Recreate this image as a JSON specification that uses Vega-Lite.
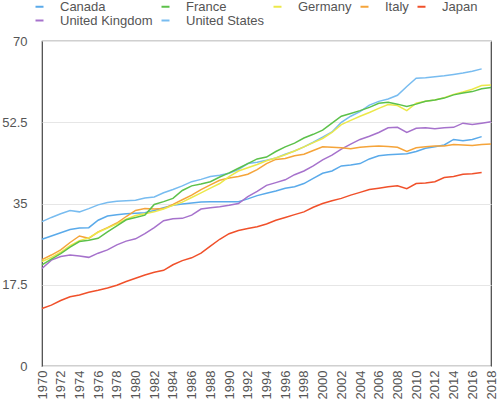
{
  "$schema": "https://vega.github.io/schema/vega-lite/v6.json",
  "width": 449,
  "height": 325,
  "autosize": "none",
  "padding": {"left": 42, "top": 41, "right": 9, "bottom": 41},
  "config": {
    "font": "Liberation Sans",
    "view": {"stroke": "#444", "strokeWidth": 1.2}
  },
  "data": {
    "values": [
      {"country": "Japan", "year": 1970, "value": 12.4}, {"country": "Japan", "year": 1971, "value": 13.1}, {"country": "Japan", "year": 1972, "value": 14.1}, {"country": "Japan", "year": 1973, "value": 14.9}, {"country": "Japan", "year": 1974, "value": 15.3}, {"country": "Japan", "year": 1975, "value": 15.9}, {"country": "Japan", "year": 1976, "value": 16.3}, {"country": "Japan", "year": 1977, "value": 16.8}, {"country": "Japan", "year": 1978, "value": 17.4}, {"country": "Japan", "year": 1979, "value": 18.2},
      {"country": "Japan", "year": 1980, "value": 18.9}, {"country": "Japan", "year": 1981, "value": 19.6}, {"country": "Japan", "year": 1982, "value": 20.2}, {"country": "Japan", "year": 1983, "value": 20.6}, {"country": "Japan", "year": 1984, "value": 21.8}, {"country": "Japan", "year": 1985, "value": 22.7}, {"country": "Japan", "year": 1986, "value": 23.3}, {"country": "Japan", "year": 1987, "value": 24.3}, {"country": "Japan", "year": 1988, "value": 25.8}, {"country": "Japan", "year": 1989, "value": 27.3},
      {"country": "Japan", "year": 1990, "value": 28.5}, {"country": "Japan", "year": 1991, "value": 29.2}, {"country": "Japan", "year": 1992, "value": 29.6}, {"country": "Japan", "year": 1993, "value": 30.0}, {"country": "Japan", "year": 1994, "value": 30.6}, {"country": "Japan", "year": 1995, "value": 31.4}, {"country": "Japan", "year": 1996, "value": 32.0}, {"country": "Japan", "year": 1997, "value": 32.6}, {"country": "Japan", "year": 1998, "value": 33.2}, {"country": "Japan", "year": 1999, "value": 34.2},
      {"country": "Japan", "year": 2000, "value": 35.0}, {"country": "Japan", "year": 2001, "value": 35.6}, {"country": "Japan", "year": 2002, "value": 36.1}, {"country": "Japan", "year": 2003, "value": 36.8}, {"country": "Japan", "year": 2004, "value": 37.4}, {"country": "Japan", "year": 2005, "value": 38.0}, {"country": "Japan", "year": 2006, "value": 38.3}, {"country": "Japan", "year": 2007, "value": 38.6}, {"country": "Japan", "year": 2008, "value": 38.8}, {"country": "Japan", "year": 2009, "value": 38.2},
      {"country": "Japan", "year": 2010, "value": 39.3}, {"country": "Japan", "year": 2011, "value": 39.4}, {"country": "Japan", "year": 2012, "value": 39.7}, {"country": "Japan", "year": 2013, "value": 40.6}, {"country": "Japan", "year": 2014, "value": 40.8}, {"country": "Japan", "year": 2015, "value": 41.3}, {"country": "Japan", "year": 2016, "value": 41.4}, {"country": "Japan", "year": 2017, "value": 41.7},

      {"country": "United States", "year": 1970, "value": 31.1}, {"country": "United States", "year": 1971, "value": 32.0}, {"country": "United States", "year": 1972, "value": 32.8}, {"country": "United States", "year": 1973, "value": 33.5}, {"country": "United States", "year": 1974, "value": 33.2}, {"country": "United States", "year": 1975, "value": 33.9}, {"country": "United States", "year": 1976, "value": 34.7}, {"country": "United States", "year": 1977, "value": 35.2}, {"country": "United States", "year": 1978, "value": 35.5}, {"country": "United States", "year": 1979, "value": 35.6},
      {"country": "United States", "year": 1980, "value": 35.7}, {"country": "United States", "year": 1981, "value": 36.2}, {"country": "United States", "year": 1982, "value": 36.4}, {"country": "United States", "year": 1983, "value": 37.3}, {"country": "United States", "year": 1984, "value": 38.0}, {"country": "United States", "year": 1985, "value": 38.8}, {"country": "United States", "year": 1986, "value": 39.7}, {"country": "United States", "year": 1987, "value": 40.2}, {"country": "United States", "year": 1988, "value": 40.8}, {"country": "United States", "year": 1989, "value": 41.1},
      {"country": "United States", "year": 1990, "value": 41.5}, {"country": "United States", "year": 1991, "value": 42.3}, {"country": "United States", "year": 1992, "value": 43.6}, {"country": "United States", "year": 1993, "value": 43.9}, {"country": "United States", "year": 1994, "value": 44.3}, {"country": "United States", "year": 1995, "value": 44.8}, {"country": "United States", "year": 1996, "value": 45.6}, {"country": "United States", "year": 1997, "value": 46.3}, {"country": "United States", "year": 1998, "value": 47.2}, {"country": "United States", "year": 1999, "value": 48.2},
      {"country": "United States", "year": 2000, "value": 49.3}, {"country": "United States", "year": 2001, "value": 50.4}, {"country": "United States", "year": 2002, "value": 52.5}, {"country": "United States", "year": 2003, "value": 53.8}, {"country": "United States", "year": 2004, "value": 54.8}, {"country": "United States", "year": 2005, "value": 56.2}, {"country": "United States", "year": 2006, "value": 57.0}, {"country": "United States", "year": 2007, "value": 57.5}, {"country": "United States", "year": 2008, "value": 58.3}, {"country": "United States", "year": 2009, "value": 60.2},
      {"country": "United States", "year": 2010, "value": 62.0}, {"country": "United States", "year": 2011, "value": 62.1}, {"country": "United States", "year": 2012, "value": 62.3}, {"country": "United States", "year": 2013, "value": 62.5}, {"country": "United States", "year": 2014, "value": 62.8}, {"country": "United States", "year": 2015, "value": 63.1}, {"country": "United States", "year": 2016, "value": 63.5}, {"country": "United States", "year": 2017, "value": 64.0},

      {"country": "Canada", "year": 1970, "value": 27.3}, {"country": "Canada", "year": 1971, "value": 28.0}, {"country": "Canada", "year": 1972, "value": 28.7}, {"country": "Canada", "year": 1973, "value": 29.4}, {"country": "Canada", "year": 1974, "value": 29.7}, {"country": "Canada", "year": 1975, "value": 29.8}, {"country": "Canada", "year": 1976, "value": 31.4}, {"country": "Canada", "year": 1977, "value": 32.3}, {"country": "Canada", "year": 1978, "value": 32.6}, {"country": "Canada", "year": 1979, "value": 32.8},
      {"country": "Canada", "year": 1980, "value": 32.9}, {"country": "Canada", "year": 1981, "value": 33.0}, {"country": "Canada", "year": 1982, "value": 33.5}, {"country": "Canada", "year": 1983, "value": 34.1}, {"country": "Canada", "year": 1984, "value": 34.6}, {"country": "Canada", "year": 1985, "value": 34.9}, {"country": "Canada", "year": 1986, "value": 35.1}, {"country": "Canada", "year": 1987, "value": 35.3}, {"country": "Canada", "year": 1988, "value": 35.4}, {"country": "Canada", "year": 1989, "value": 35.4},
      {"country": "Canada", "year": 1990, "value": 35.4}, {"country": "Canada", "year": 1991, "value": 35.4}, {"country": "Canada", "year": 1992, "value": 36.0}, {"country": "Canada", "year": 1993, "value": 36.7}, {"country": "Canada", "year": 1994, "value": 37.2}, {"country": "Canada", "year": 1995, "value": 37.7}, {"country": "Canada", "year": 1996, "value": 38.3}, {"country": "Canada", "year": 1997, "value": 38.6}, {"country": "Canada", "year": 1998, "value": 39.3}, {"country": "Canada", "year": 1999, "value": 40.4},
      {"country": "Canada", "year": 2000, "value": 41.5}, {"country": "Canada", "year": 2001, "value": 42.0}, {"country": "Canada", "year": 2002, "value": 43.1}, {"country": "Canada", "year": 2003, "value": 43.3}, {"country": "Canada", "year": 2004, "value": 43.6}, {"country": "Canada", "year": 2005, "value": 44.6}, {"country": "Canada", "year": 2006, "value": 45.3}, {"country": "Canada", "year": 2007, "value": 45.5}, {"country": "Canada", "year": 2008, "value": 45.6}, {"country": "Canada", "year": 2009, "value": 45.7},
      {"country": "Canada", "year": 2010, "value": 46.2}, {"country": "Canada", "year": 2011, "value": 46.9}, {"country": "Canada", "year": 2012, "value": 47.2}, {"country": "Canada", "year": 2013, "value": 47.6}, {"country": "Canada", "year": 2014, "value": 48.8}, {"country": "Canada", "year": 2015, "value": 48.5}, {"country": "Canada", "year": 2016, "value": 48.8}, {"country": "Canada", "year": 2017, "value": 49.4},

      {"country": "United Kingdom", "year": 1970, "value": 21.0}, {"country": "United Kingdom", "year": 1971, "value": 22.8}, {"country": "United Kingdom", "year": 1972, "value": 23.6}, {"country": "United Kingdom", "year": 1973, "value": 23.9}, {"country": "United Kingdom", "year": 1974, "value": 23.7}, {"country": "United Kingdom", "year": 1975, "value": 23.4}, {"country": "United Kingdom", "year": 1976, "value": 24.3}, {"country": "United Kingdom", "year": 1977, "value": 25.0}, {"country": "United Kingdom", "year": 1978, "value": 26.1}, {"country": "United Kingdom", "year": 1979, "value": 26.9},
      {"country": "United Kingdom", "year": 1980, "value": 27.4}, {"country": "United Kingdom", "year": 1981, "value": 28.5}, {"country": "United Kingdom", "year": 1982, "value": 29.8}, {"country": "United Kingdom", "year": 1983, "value": 31.3}, {"country": "United Kingdom", "year": 1984, "value": 31.7}, {"country": "United Kingdom", "year": 1985, "value": 31.8}, {"country": "United Kingdom", "year": 1986, "value": 32.5}, {"country": "United Kingdom", "year": 1987, "value": 33.8}, {"country": "United Kingdom", "year": 1988, "value": 34.1}, {"country": "United Kingdom", "year": 1989, "value": 34.3},
      {"country": "United Kingdom", "year": 1990, "value": 34.6}, {"country": "United Kingdom", "year": 1991, "value": 35.0}, {"country": "United Kingdom", "year": 1992, "value": 36.5}, {"country": "United Kingdom", "year": 1993, "value": 37.6}, {"country": "United Kingdom", "year": 1994, "value": 38.9}, {"country": "United Kingdom", "year": 1995, "value": 39.5}, {"country": "United Kingdom", "year": 1996, "value": 40.1}, {"country": "United Kingdom", "year": 1997, "value": 41.2}, {"country": "United Kingdom", "year": 1998, "value": 42.0}, {"country": "United Kingdom", "year": 1999, "value": 43.1},
      {"country": "United Kingdom", "year": 2000, "value": 44.4}, {"country": "United Kingdom", "year": 2001, "value": 45.4}, {"country": "United Kingdom", "year": 2002, "value": 46.7}, {"country": "United Kingdom", "year": 2003, "value": 47.8}, {"country": "United Kingdom", "year": 2004, "value": 48.8}, {"country": "United Kingdom", "year": 2005, "value": 49.5}, {"country": "United Kingdom", "year": 2006, "value": 50.3}, {"country": "United Kingdom", "year": 2007, "value": 51.3}, {"country": "United Kingdom", "year": 2008, "value": 51.4}, {"country": "United Kingdom", "year": 2009, "value": 50.3},
      {"country": "United Kingdom", "year": 2010, "value": 51.2}, {"country": "United Kingdom", "year": 2011, "value": 51.3}, {"country": "United Kingdom", "year": 2012, "value": 51.1}, {"country": "United Kingdom", "year": 2013, "value": 51.3}, {"country": "United Kingdom", "year": 2014, "value": 51.4}, {"country": "United Kingdom", "year": 2015, "value": 52.3}, {"country": "United Kingdom", "year": 2016, "value": 52.0}, {"country": "United Kingdom", "year": 2017, "value": 52.3}, {"country": "United Kingdom", "year": 2018, "value": 52.6},

      {"country": "Italy", "year": 1970, "value": 22.9}, {"country": "Italy", "year": 1971, "value": 23.9}, {"country": "Italy", "year": 1972, "value": 25.0}, {"country": "Italy", "year": 1973, "value": 26.6}, {"country": "Italy", "year": 1974, "value": 28.0}, {"country": "Italy", "year": 1975, "value": 27.5}, {"country": "Italy", "year": 1976, "value": 28.9}, {"country": "Italy", "year": 1977, "value": 29.8}, {"country": "Italy", "year": 1978, "value": 30.8}, {"country": "Italy", "year": 1979, "value": 32.2},
      {"country": "Italy", "year": 1980, "value": 33.5}, {"country": "Italy", "year": 1981, "value": 33.9}, {"country": "Italy", "year": 1982, "value": 33.8}, {"country": "Italy", "year": 1983, "value": 33.9}, {"country": "Italy", "year": 1984, "value": 34.8}, {"country": "Italy", "year": 1985, "value": 35.8}, {"country": "Italy", "year": 1986, "value": 36.8}, {"country": "Italy", "year": 1987, "value": 38.0}, {"country": "Italy", "year": 1988, "value": 39.0}, {"country": "Italy", "year": 1989, "value": 40.0},
      {"country": "Italy", "year": 1990, "value": 40.5}, {"country": "Italy", "year": 1991, "value": 40.8}, {"country": "Italy", "year": 1992, "value": 41.3}, {"country": "Italy", "year": 1993, "value": 42.3}, {"country": "Italy", "year": 1994, "value": 43.6}, {"country": "Italy", "year": 1995, "value": 44.5}, {"country": "Italy", "year": 1996, "value": 44.7}, {"country": "Italy", "year": 1997, "value": 45.3}, {"country": "Italy", "year": 1998, "value": 45.6}, {"country": "Italy", "year": 1999, "value": 46.4},
      {"country": "Italy", "year": 2000, "value": 47.2}, {"country": "Italy", "year": 2001, "value": 47.1}, {"country": "Italy", "year": 2002, "value": 47.0}, {"country": "Italy", "year": 2003, "value": 46.8}, {"country": "Italy", "year": 2004, "value": 47.1}, {"country": "Italy", "year": 2005, "value": 47.3}, {"country": "Italy", "year": 2006, "value": 47.4}, {"country": "Italy", "year": 2007, "value": 47.3}, {"country": "Italy", "year": 2008, "value": 47.1}, {"country": "Italy", "year": 2009, "value": 46.2},
      {"country": "Italy", "year": 2010, "value": 47.0}, {"country": "Italy", "year": 2011, "value": 47.2}, {"country": "Italy", "year": 2012, "value": 47.4}, {"country": "Italy", "year": 2013, "value": 47.4}, {"country": "Italy", "year": 2014, "value": 47.7}, {"country": "Italy", "year": 2015, "value": 47.6}, {"country": "Italy", "year": 2016, "value": 47.5}, {"country": "Italy", "year": 2017, "value": 47.7}, {"country": "Italy", "year": 2018, "value": 47.8},

      {"country": "Germany", "year": 1970, "value": 22.5}, {"country": "Germany", "year": 1971, "value": 23.4}, {"country": "Germany", "year": 1972, "value": 24.5}, {"country": "Germany", "year": 1973, "value": 25.9}, {"country": "Germany", "year": 1974, "value": 27.0}, {"country": "Germany", "year": 1975, "value": 27.6}, {"country": "Germany", "year": 1976, "value": 28.8}, {"country": "Germany", "year": 1977, "value": 29.7}, {"country": "Germany", "year": 1978, "value": 30.6}, {"country": "Germany", "year": 1979, "value": 31.6},
      {"country": "Germany", "year": 1980, "value": 32.4}, {"country": "Germany", "year": 1981, "value": 32.8}, {"country": "Germany", "year": 1982, "value": 33.2}, {"country": "Germany", "year": 1983, "value": 33.8}, {"country": "Germany", "year": 1984, "value": 34.6}, {"country": "Germany", "year": 1985, "value": 35.3}, {"country": "Germany", "year": 1986, "value": 36.3}, {"country": "Germany", "year": 1987, "value": 37.3}, {"country": "Germany", "year": 1988, "value": 38.3}, {"country": "Germany", "year": 1989, "value": 39.3},
      {"country": "Germany", "year": 1990, "value": 40.8}, {"country": "Germany", "year": 1991, "value": 42.0}, {"country": "Germany", "year": 1992, "value": 42.7}, {"country": "Germany", "year": 1993, "value": 43.4}, {"country": "Germany", "year": 1994, "value": 44.2}, {"country": "Germany", "year": 1995, "value": 44.8}, {"country": "Germany", "year": 1996, "value": 45.5}, {"country": "Germany", "year": 1997, "value": 46.3}, {"country": "Germany", "year": 1998, "value": 47.2}, {"country": "Germany", "year": 1999, "value": 48.1},
      {"country": "Germany", "year": 2000, "value": 49.0}, {"country": "Germany", "year": 2001, "value": 50.3}, {"country": "Germany", "year": 2002, "value": 52.0}, {"country": "Germany", "year": 2003, "value": 52.9}, {"country": "Germany", "year": 2004, "value": 53.8}, {"country": "Germany", "year": 2005, "value": 54.6}, {"country": "Germany", "year": 2006, "value": 55.5}, {"country": "Germany", "year": 2007, "value": 56.3}, {"country": "Germany", "year": 2008, "value": 56.1}, {"country": "Germany", "year": 2009, "value": 55.0},
      {"country": "Germany", "year": 2010, "value": 56.6}, {"country": "Germany", "year": 2011, "value": 57.0}, {"country": "Germany", "year": 2012, "value": 57.3}, {"country": "Germany", "year": 2013, "value": 57.8}, {"country": "Germany", "year": 2014, "value": 58.5}, {"country": "Germany", "year": 2015, "value": 59.0}, {"country": "Germany", "year": 2016, "value": 59.6}, {"country": "Germany", "year": 2017, "value": 60.4}, {"country": "Germany", "year": 2018, "value": 60.5},

      {"country": "France", "year": 1970, "value": 21.8}, {"country": "France", "year": 1971, "value": 23.0}, {"country": "France", "year": 1972, "value": 24.2}, {"country": "France", "year": 1973, "value": 25.6}, {"country": "France", "year": 1974, "value": 26.8}, {"country": "France", "year": 1975, "value": 27.1}, {"country": "France", "year": 1976, "value": 27.5}, {"country": "France", "year": 1977, "value": 28.9}, {"country": "France", "year": 1978, "value": 30.2}, {"country": "France", "year": 1979, "value": 31.5},
      {"country": "France", "year": 1980, "value": 32.0}, {"country": "France", "year": 1981, "value": 32.5}, {"country": "France", "year": 1982, "value": 34.8}, {"country": "France", "year": 1983, "value": 35.4}, {"country": "France", "year": 1984, "value": 36.1}, {"country": "France", "year": 1985, "value": 37.8}, {"country": "France", "year": 1986, "value": 38.8}, {"country": "France", "year": 1987, "value": 39.2}, {"country": "France", "year": 1988, "value": 39.7}, {"country": "France", "year": 1989, "value": 40.7},
      {"country": "France", "year": 1990, "value": 41.6}, {"country": "France", "year": 1991, "value": 42.6}, {"country": "France", "year": 1992, "value": 43.6}, {"country": "France", "year": 1993, "value": 44.6}, {"country": "France", "year": 1994, "value": 45.0}, {"country": "France", "year": 1995, "value": 46.2}, {"country": "France", "year": 1996, "value": 47.2}, {"country": "France", "year": 1997, "value": 48.0}, {"country": "France", "year": 1998, "value": 49.1}, {"country": "France", "year": 1999, "value": 49.9},
      {"country": "France", "year": 2000, "value": 50.8}, {"country": "France", "year": 2001, "value": 52.3}, {"country": "France", "year": 2002, "value": 53.8}, {"country": "France", "year": 2003, "value": 54.4}, {"country": "France", "year": 2004, "value": 55.0}, {"country": "France", "year": 2005, "value": 55.7}, {"country": "France", "year": 2006, "value": 56.6}, {"country": "France", "year": 2007, "value": 56.8}, {"country": "France", "year": 2008, "value": 56.4}, {"country": "France", "year": 2009, "value": 55.9},
      {"country": "France", "year": 2010, "value": 56.4}, {"country": "France", "year": 2011, "value": 57.0}, {"country": "France", "year": 2012, "value": 57.3}, {"country": "France", "year": 2013, "value": 57.7}, {"country": "France", "year": 2014, "value": 58.4}, {"country": "France", "year": 2015, "value": 58.8}, {"country": "France", "year": 2016, "value": 59.1}, {"country": "France", "year": 2017, "value": 59.7}, {"country": "France", "year": 2018, "value": 60.0}
    ]
  },
  "mark": {"type": "line", "strokeWidth": 1.5},
  "encoding": {
    "x": {
      "field": "year",
      "type": "quantitative",
      "scale": {"domain": [1970, 2018], "nice": false, "zero": false},
      "axis": {
        "title": null,
        "values": [1970, 1972, 1974, 1976, 1978, 1980, 1982, 1984, 1986, 1988, 1990, 1992, 1994, 1996, 1998, 2000, 2002, 2004, 2006, 2008, 2010, 2012, 2014, 2016, 2018],
        "format": "d",
        "labelAngle": -90,
        "labelFontSize": 13,
        "labelColor": "#555",
        "labelPadding": 4,
        "labelOverlap": false,
        "labelFlush": false,
        "grid": false,
        "ticks": false,
        "domain": false
      }
    },
    "y": {
      "field": "value",
      "type": "quantitative",
      "scale": {"domain": [0, 70], "nice": false},
      "axis": {
        "title": null,
        "values": [0, 17.5, 35, 52.5, 70],
        "format": ".1~f",
        "labelFontSize": 13,
        "labelColor": "#555",
        "labelPadding": 15,
        "labelFlush": false,
        "gridColor": "#e6e6e6",
        "ticks": false,
        "domain": false
      }
    },
    "color": {
      "field": "country",
      "type": "nominal",
      "scale": {
        "domain": ["Canada", "France", "Germany", "Italy", "Japan", "United Kingdom", "United States"],
        "range": ["#5aaaea", "#5cc14a", "#ece84a", "#f5a43a", "#f0502a", "#a672cc", "#78bcf0"]
      },
      "legend": {
        "title": null,
        "orient": "none",
        "direction": "horizontal",
        "legendX": -9,
        "legendY": -41,
        "columns": 5,
        "symbolType": "stroke",
        "symbolStrokeWidth": 2,
        "symbolSize": 64,
        "labelFontSize": 13,
        "labelColor": "#555",
        "labelOffset": 14,
        "labelExpr": "indexof(datum.label, 'United') == 0 ? datum.label + '  ' : datum.label",
        "rowPadding": 0,
        "columnPadding": 4
      }
    }
  }
}
